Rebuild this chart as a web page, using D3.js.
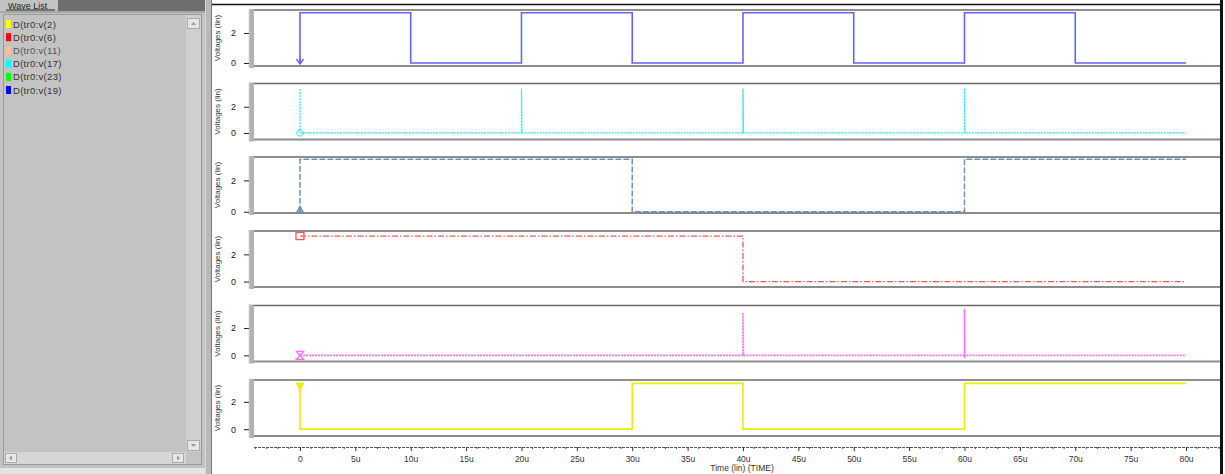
<!DOCTYPE html>
<html><head><meta charset="utf-8">
<script src="https://cdn.jsdelivr.net/npm/d3@7"></script>
<style>
html,body{margin:0;padding:0;background:#fff;}
svg{display:block;font-family:"Liberation Sans",Arial,sans-serif;}
</style></head>
<body>
<svg id="c" width="1225" height="474"></svg>
<script>
// ---------- data ----------
const waveNames = ["D(tr0:v(2)", "D(tr0:v(6)", "D(tr0:v(11)", "D(tr0:v(17)", "D(tr0:v(23)", "D(tr0:v(19)"];
const waveColors = ["#ffff00", "#ff0000", "#ffc090", "#00ffff", "#00ff00", "#0000ff"];

const xTickValues = [0, 5, 10, 15, 20, 25, 30, 35, 40, 45, 50, 55, 60, 65, 70, 75, 80];
const xTickLabels = ["0", "5u", "10u", "15u", "20u", "25u", "30u", "35u", "40u", "45u", "50u", "55u", "60u", "65u", "70u", "75u", "80u"];
const xDomain = [-4.15, 83.07];
const yTickValues = [0, 2];
const yTickLabels = ["0", "2"];

// panel 1 (blue clock)
const p1Time = [0, 0, 10, 10, 20, 20, 30, 30, 40, 40, 50, 50, 60, 60, 70, 70, 80];
const p1Volt = [0, 3.35, 3.35, 0, 0, 3.35, 3.35, 0, 0, 3.35, 3.35, 0, 0, 3.35, 3.35, 0, 0];
// panel 2 (cyan pulses)
const p2Time = [0, 0, 0.05, 20, 20, 20.05, 40, 40, 40.05, 60, 60, 60.05, 80];
const p2Volt = [3.35, 0, 0, 0, 3.4, 0, 0, 3.4, 0, 0, 3.4, 0, 0];
// panel 3 (steel blue)
const p3Time = [0, 0, 30, 30, 60, 60, 80];
const p3Volt = [0, 3.35, 3.35, 0, 0, 3.35, 3.35];
// panel 4 (red)
const p4Time = [0, 40, 40, 80];
const p4Volt = [3.35, 3.35, 0, 0];
// panel 5 (magenta pulses)
const p5Time = [0, 40, 40, 40.05, 60, 60, 60.02, 60.05, 80];
const p5Volt = [0, 0, 3.1, 0, 0, 3.4, -0.2, 0, 0];
// panel 6 (yellow)
const p6Time = [0, 0, 30, 30, 40, 40, 60, 60, 80];
const p6Volt = [3.35, 0, 0, 3.35, 3.35, 0, 0, 3.35, 3.35];

const panelTimes = [p1Time, p2Time, p3Time, p4Time, p5Time, p6Time];
const panelVolts = [p1Volt, p2Volt, p3Volt, p4Volt, p5Volt, p6Volt];
const panelYMin = [-0.2, -0.5, -0.08, -0.4, -0.45, -0.5];
const panelYMax = [3.53, 3.78, 3.49, 3.72, 3.64, 3.6];

// ---------- styles ----------
const panelStyle = [
  {color: "#6464ff", width: 1.6, dash: null, marker: "chevron", mAt: 0},
  {color: "#2ee6ee", width: 1.3, dash: "2,1", marker: "circle", mAt: 1},
  {color: "#6d8fb8", width: 1.5, dash: "6,2", marker: "triangle", mAt: 0},
  {color: "#ff5555", width: 1.3, dash: "6,2,1.5,2", marker: "square", mAt: 0},
  {color: "#ff6cff", width: 1.6, dash: "2,1", marker: "hourglass", mAt: 0},
  {color: "#eded00", width: 1.6, dash: null, marker: "tridown", mAt: 0}
];

const svg = d3.select("#c");
const W = 1225, H = 474;

// ---------- left wave list panel ----------
const left = svg.append("g");
left.append("rect").attr("x", 0).attr("y", 0).attr("width", 205).attr("height", 468).attr("fill", "#c3c3c3");
left.append("rect").attr("x", 0).attr("y", 468).attr("width", 205).attr("height", 6).attr("fill", "#e4e4e4");
left.append("rect").attr("x", 58).attr("y", 0).attr("width", 147).attr("height", 11).attr("fill", "#6e6e6e");
left.append("text").attr("x", 8).attr("y", 8.5).attr("font-size", 9).attr("fill", "#222").text("Wave List");
left.append("line").attr("x1", 6).attr("x2", 55).attr("y1", 10).attr("y2", 10).attr("stroke", "#222").attr("stroke-width", 1);
left.append("line").attr("x1", 0).attr("x2", 205).attr("y1", 12).attr("y2", 12).attr("stroke", "#8a8a8a");
left.append("rect").attr("x", 3.5).attr("y", 14.5).attr("width", 198).attr("height", 450).attr("fill", "#c3c3c3").attr("stroke", "#9a9a9a");
// vertical scrollbar
left.append("rect").attr("x", 186).attr("y", 15).attr("width", 15).attr("height", 437).attr("fill", "#cfcfcf");
left.append("rect").attr("x", 187.5).attr("y", 18.5).attr("width", 12).attr("height", 10).attr("fill", "#e6e6e6").attr("stroke", "#aaa");
left.append("path").attr("d", "M191,25 L193.5,22 L196,25 Z").attr("fill", "#999");
left.append("rect").attr("x", 187.5).attr("y", 440.5).attr("width", 12).attr("height", 10).attr("fill", "#e6e6e6").attr("stroke", "#aaa");
left.append("path").attr("d", "M191,444 L193.5,447 L196,444 Z").attr("fill", "#999");
// horizontal scrollbar
left.append("rect").attr("x", 4).attr("y", 452).attr("width", 182).attr("height", 12).attr("fill", "#d6d6d6");
left.append("rect").attr("x", 5.5).attr("y", 453.5).attr("width", 11).attr("height", 9).attr("fill", "#e8e8e8").attr("stroke", "#aaa");
left.append("path").attr("d", "M12,455.5 L9,458 L12,460.5 Z").attr("fill", "#999");
left.append("rect").attr("x", 172.5).attr("y", 453.5).attr("width", 11).attr("height", 9).attr("fill", "#e8e8e8").attr("stroke", "#aaa");
left.append("path").attr("d", "M177,455.5 L180,458 L177,460.5 Z").attr("fill", "#999");

const legend = left.selectAll("g.leg").data(waveNames).enter().append("g")
  .attr("transform", (d, i) => `translate(6,${20 + i * 13.2})`);
legend.append("rect").attr("x", 0).attr("y", 0).attr("width", 5).attr("height", 8)
  .attr("fill", (d, i) => waveColors[i]);
legend.append("text").attr("x", 7).attr("y", 7.5).attr("font-size", 9.5).attr("letter-spacing", 0.3)
  .attr("fill", (d, i) => i === 2 ? "#555" : "#333").text(d => d);

// separator
svg.append("rect").attr("x", 205).attr("y", 0).attr("width", 7).attr("height", H).attr("fill", "#b8b8b8");
svg.append("line").attr("x1", 211.5).attr("x2", 211.5).attr("y1", 0).attr("y2", H).attr("stroke", "#7a7a7a");
svg.append("line").attr("x1", 205.5).attr("x2", 205.5).attr("y1", 0).attr("y2", H).attr("stroke", "#d8d8d8");

// chart frame
svg.append("line").attr("x1", 212).attr("x2", 1222).attr("y1", 4.5).attr("y2", 4.5).attr("stroke", "#111").attr("stroke-width", 1.5);
svg.append("rect").attr("x", 1220).attr("y", 0).attr("width", 3).attr("height", H).attr("fill", "#111");

// ---------- panels ----------
const plotL = 254, plotR = 1220;
const x = d3.scaleLinear().domain(xDomain).range([plotL, plotR]);
const panelTops = [10, 83.5, 157, 231, 305.5, 380];
const panelH = 56;

const markerPath = {
  chevron: "M-3.5,-4 L0,1 L3.5,-4 M0,1 L0,-6",
  hourglass: "M-3.5,-4 L3.5,-4 L-3.5,4 L3.5,4 Z"
};

panelTimes.forEach((times, i) => {
  const top = panelTops[i], bot = top + panelH;
  const st = panelStyle[i];
  const y = d3.scaleLinear().domain([panelYMin[i], panelYMax[i]]).range([bot, top]);
  const g = svg.append("g");

  // frame
  g.append("rect").attr("x", 249).attr("y", top - 1).attr("width", 5).attr("height", panelH + 3).attr("fill", "#b2b2b2");
  g.append("line").attr("x1", 249).attr("x2", 249).attr("y1", top - 1).attr("y2", bot + 2).attr("stroke", "#d8d8d8");
  g.append("line").attr("x1", plotL).attr("x2", plotR).attr("y1", top).attr("y2", top).attr("stroke", "#6a6a6a").attr("stroke-width", 1.3);
  g.append("line").attr("x1", plotL).attr("x2", plotR).attr("y1", bot).attr("y2", bot).attr("stroke", "#8c8c8c").attr("stroke-width", 2);

  // y axis
  const ya = d3.axisLeft(y).tickValues(yTickValues).tickFormat((d, k) => yTickLabels[k]).tickSize(5).tickPadding(8);
  const ag = g.append("g").attr("transform", "translate(249,0)").call(ya);
  ag.select(".domain").remove();
  ag.selectAll(".tick line").attr("stroke", "#222");
  ag.selectAll(".tick text").attr("font-size", 9).attr("fill", "#222").attr("font-family", "Liberation Sans, Arial, sans-serif");

  g.append("text").attr("transform", `translate(220,${(top + bot) / 2}) rotate(-90)`)
    .attr("text-anchor", "middle").attr("font-size", 8).attr("fill", "#333").text("Voltages (lin)");

  // waveform
  const pts = times.map((t, k) => [t, panelVolts[i][k]]);
  const line = d3.line().x(d => x(d[0])).y(d => y(d[1]));
  const p = g.append("path").datum(pts).attr("d", line).attr("fill", "none")
    .attr("stroke", st.color).attr("stroke-width", st.width);
  if (st.dash) p.attr("stroke-dasharray", st.dash);

  // marker at first point
  const mx = x(times[0]), my = y(panelVolts[i][st.mAt === 1 ? 1 : 0]);
  const m = g.append("g").attr("transform", `translate(${mx},${my})`);
  if (st.marker === "chevron") {
    m.append("path").attr("d", markerPath.chevron).attr("fill", "none").attr("stroke", st.color).attr("stroke-width", 1.4);
  } else if (st.marker === "circle") {
    m.append("circle").attr("r", 3.2).attr("fill", "none").attr("stroke", st.color).attr("stroke-width", 1.2).attr("stroke-dasharray", "2,1");
  } else if (st.marker === "triangle") {
    m.append("path").attr("d", d3.symbol(d3.symbolTriangle, 30)()).attr("transform", "translate(0,-1)").attr("fill", st.color).attr("fill-opacity", 0.8).attr("stroke", st.color);
  } else if (st.marker === "square") {
    m.append("rect").attr("x", -4).attr("y", -3.5).attr("width", 8).attr("height", 7).attr("fill", "none").attr("stroke", st.color).attr("stroke-width", 1.3);
  } else if (st.marker === "hourglass") {
    m.append("path").attr("d", markerPath.hourglass).attr("fill", "none").attr("stroke", st.color).attr("stroke-width", 1.4);
  } else if (st.marker === "tridown") {
    m.append("path").attr("d", d3.symbol(d3.symbolTriangle, 28)()).attr("transform", "translate(0,2) rotate(180)").attr("fill", st.color).attr("stroke", st.color);
  }
});

// ---------- x axis ----------
const axisY = 447;
const xa = d3.axisBottom(x).tickValues(xTickValues).tickFormat((d, k) => xTickLabels[k]).tickSize(4).tickPadding(5);
const xg = svg.append("g").attr("transform", `translate(0,${axisY})`).call(xa);
xg.select(".domain").attr("d", `M${plotL},0.5H${plotR}`).attr("stroke", "#555").attr("stroke-dasharray", "3,1");
xg.selectAll(".tick line").attr("stroke", "#333");
xg.selectAll(".tick text").attr("font-size", 8.5).attr("fill", "#333").attr("font-family", "Liberation Sans, Arial, sans-serif");
// minor ticks
const minor = d3.range(Math.ceil(xDomain[0]), Math.floor(xDomain[1]) + 1).filter(v => v % 5 !== 0);
svg.append("g").selectAll("line").data(minor).enter().append("line")
  .attr("x1", d => x(d)).attr("x2", d => x(d)).attr("y1", axisY).attr("y2", axisY + 2)
  .attr("stroke", "#555");
svg.append("text").attr("x", 742).attr("y", 471).attr("text-anchor", "middle").attr("font-size", 8.5).attr("fill", "#333").text("Time (lin) (TIME)");
</script>
</body></html>
